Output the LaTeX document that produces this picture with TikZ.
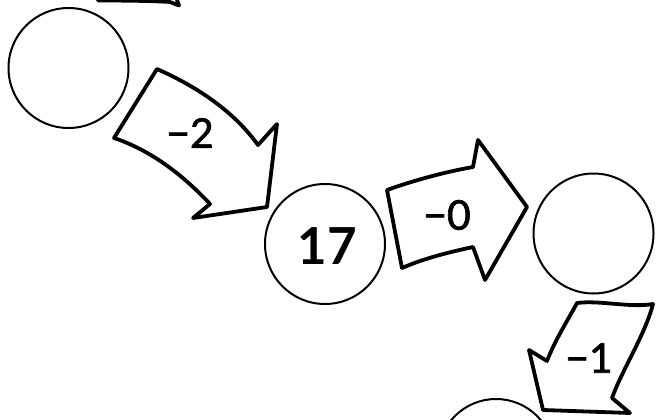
\documentclass[tikz,border=0pt]{standalone}
\usepackage{fontspec}
\setmainfont{Lato}
\newfontfamily\labelfont[FakeBold=1.6]{Lato}
\begin{document}
\begin{tikzpicture}[x=1pt,y=-1pt,
  numcircle/.style={circle,draw=black,line width=2pt,minimum size=120pt,inner sep=0pt},
  bigarrow/.style={draw=black,line width=3.8pt,line join=round,fill=white},
  steplabel/.style={font=\labelfont\fontsize{41}{41}\selectfont,inner sep=0pt},
  bignum/.style={font=\fontsize{51}{51}\selectfont\bfseries,inner sep=0pt}]
\useasboundingbox (0,0) rectangle (656,420);
\clip (0,0) rectangle (656,420);
\fill[white] (0,0) rectangle (656,420);
% circles
\node[numcircle] (c1) at (68.5,68) {};
\node[numcircle] (c2) at (325,244) {};
\node[bignum] (n17) at (327,246) {17};
\node[numcircle] (c3) at (593.5,233.5) {};
\node[numcircle,minimum size=116pt] (c4) at (496,457) {};
% top fragment of an arrow
\draw[bigarrow,fill=none,line cap=round] (98,0.5) .. controls (130,0.5) and (155,1) .. (170,2) -- (179,5.5) -- (177,0);
% arrow -2
\draw[bigarrow] (157,69) .. controls (200,88) and (235,113) .. (258,145) -- (277,124) -- (267,207) -- (193,218) -- (210,204)
  .. controls (182,174) and (150,150) .. (114,138) -- cycle;
\node[steplabel] (l1) at (190,133) {−2};
% arrow -0
\draw[bigarrow] (387,190) .. controls (415,180) and (445,172) .. (473,167) -- (478,140) -- (527,207) -- (485,280) -- (473,247)
  .. controls (450,252) and (425,258) .. (402,268) -- cycle;
\node[steplabel] (l2) at (447,215) {−0};
% arrow -1
\draw[bigarrow] (577,303) .. controls (600,300) and (630,308) .. (653,304) .. controls (645,335) and (622,370) .. (612,398)
  -- (630,413) -- (543,410) -- (529,350) -- (547,361) .. controls (555,340) and (568,320) .. (577,303) -- cycle;
\node[steplabel] (l3) at (589,358) {−1};
\end{tikzpicture}
\end{document}
